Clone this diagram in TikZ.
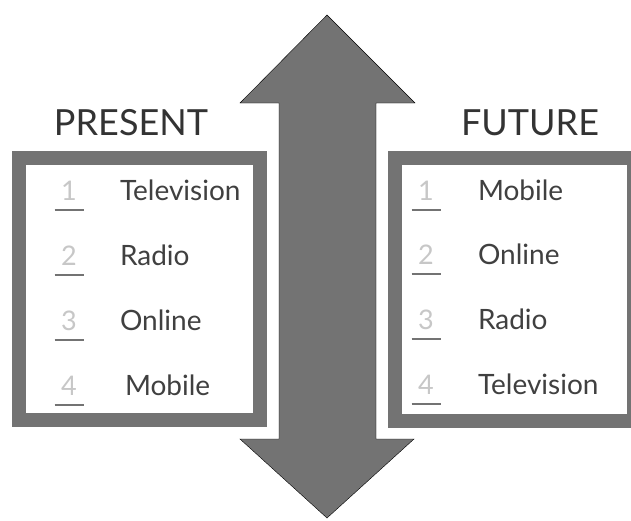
\documentclass[tikz,border=0pt]{standalone}
\usepackage{fontspec}
\setmainfont{Lato}
\usetikzlibrary{positioning}

\begin{document}
\begin{tikzpicture}[x=1pt,y=-1pt]
			\tikzstyle{every node}=[inner sep=0pt,outer sep=0pt]
			\tikzstyle{panel}=[draw=black!55,line width=14pt,fill=white]
			\tikzstyle{shaft}=[fill=black!55]
			\tikzstyle{title}=[font=\fontsize{36}{40}\selectfont,text=black!80,anchor=base]
			\tikzstyle{rank}=[font=\fontsize{27}{30}\selectfont,text=black!22,minimum width=29pt,anchor=base]
			\tikzstyle{item}=[font=\fontsize{28}{32}\selectfont,text=black!75,anchor=base west]
			\tikzstyle{rule}=[draw=black!55,line width=2.2pt]
			
			\useasboundingbox (0,0) rectangle (631,520);
			
			% Draw the double arrow
			\draw[shaft] (327,15) -- (415,103) -- (376,103) -- (376,439) -- (414,439)
				-- (327,518) -- (240,439) -- (279,439) -- (279,103) -- (240,103) -- cycle;
			
			% Draw the two panels
			\draw[panel] (19,158) rectangle (260,420);
			\draw[panel] (395,158) rectangle (634,421);
			
			% Draw the titles
			\node[title] (T-present) at (131,135) {PRESENT};
			\node[title] (T-future) at (530,135) {FUTURE};
			
			% Draw the present ranking
			\foreach \name / \x / \y in {Television/120/200,Radio/120/265,Online/120/330,Mobile/125/395}
			\node[item] (P-\name) at (\x,\y) {\name};
			\foreach \n / \y in {1/200,2/265,3/330,4/395}
			{
			\node[rank] (PN-\n) at (69,\y) {\n};
			\draw[rule] ([yshift=-10pt]PN-\n.base west) -- ([yshift=-10pt]PN-\n.base east);
			}
			
			% Draw the future ranking
			\foreach \name / \y in {Mobile/200,Online/264,Radio/329,Television/394}
			\node[item] (F-\name) at (478,\y) {\name};
			\foreach \n / \y in {1/200,2/264,3/329,4/394}
			{
			\node[rank] (FN-\n) at (426,\y) {\n};
			\draw[rule] ([yshift=-10pt]FN-\n.base west) -- ([yshift=-10pt]FN-\n.base east);
			}
		\end{tikzpicture}
\end{document}
